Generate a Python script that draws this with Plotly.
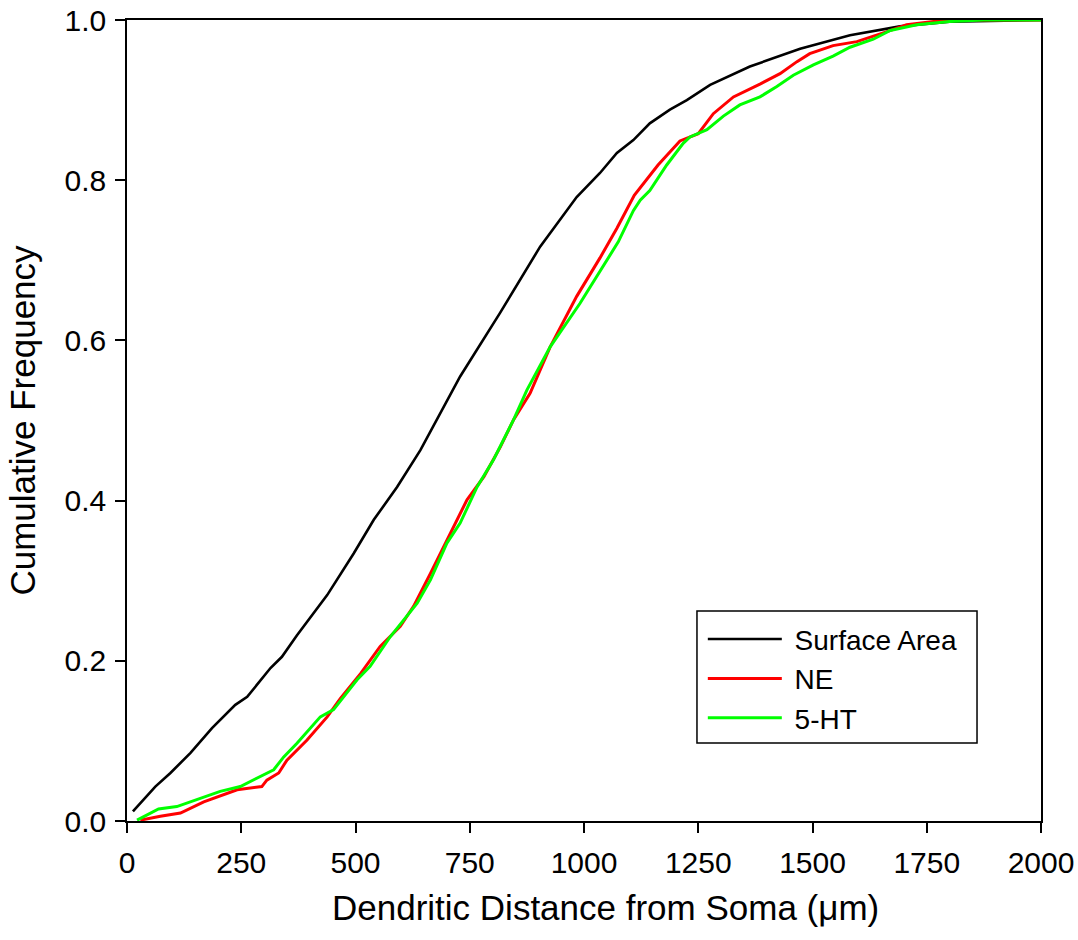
import plotly.graph_objects as go

# Surface Area (black)
sa_x = [13, 62, 95, 139, 186, 237, 263, 314, 339, 372, 438, 496, 540, 591, 642, 678, 729, 816, 904, 984,
        1035, 1072, 1108, 1144, 1188, 1225, 1276, 1363, 1473, 1582, 1691, 1800, 2000]
sa_y = [0.012, 0.043, 0.060, 0.085, 0.116, 0.145, 0.155, 0.191, 0.205, 0.232, 0.282, 0.334, 0.376, 0.417,
        0.463, 0.501, 0.555, 0.634, 0.717, 0.779, 0.809, 0.834, 0.850, 0.871, 0.888, 0.900, 0.919, 0.942,
        0.964, 0.981, 0.992, 0.998, 1.0]

# NE (red)
ne_x = [29, 73, 117, 168, 241, 295, 306, 332, 350, 394, 438, 467, 511, 554, 598, 627, 664, 707, 744, 781,
        817, 846, 882, 926, 984, 1035, 1072, 1110, 1162, 1210, 1250, 1283, 1327, 1385, 1429, 1466, 1494,
        1545, 1597, 1655, 1706, 1765, 1823, 2000]
ne_y = [0.001, 0.006, 0.010, 0.024, 0.039, 0.043, 0.051, 0.060, 0.076, 0.101, 0.130, 0.153, 0.184, 0.218,
        0.243, 0.268, 0.309, 0.359, 0.401, 0.430, 0.467, 0.501, 0.534, 0.592, 0.655, 0.703, 0.740, 0.781,
        0.819, 0.849, 0.858, 0.883, 0.904, 0.920, 0.933, 0.948, 0.958, 0.968, 0.973, 0.984, 0.994, 0.998,
        1.0, 1.0]

# 5-HT (green)
ht_x = [22, 69, 109, 160, 204, 248, 284, 321, 343, 372, 423, 452, 503, 532, 576, 605, 635, 664, 700, 729,
        766, 802, 846, 875, 926, 991, 1032, 1075, 1108, 1123, 1144, 1181, 1217, 1232, 1269, 1305, 1341,
        1385, 1422, 1458, 1502, 1545, 1582, 1633, 1670, 1728, 1800, 1874, 2000]
ht_y = [0.001, 0.015, 0.018, 0.028, 0.037, 0.043, 0.053, 0.064, 0.080, 0.097, 0.130, 0.139, 0.176, 0.193,
        0.230, 0.251, 0.272, 0.301, 0.347, 0.372, 0.417, 0.451, 0.501, 0.538, 0.592, 0.646, 0.684, 0.723,
        0.762, 0.775, 0.787, 0.819, 0.846, 0.854, 0.863, 0.880, 0.894, 0.904, 0.917, 0.931, 0.944, 0.955,
        0.966, 0.976, 0.987, 0.994, 0.998, 1.0, 1.0]

x_ticks = [0, 250, 500, 750, 1000, 1250, 1500, 1750, 2000]
y_ticks = [0.0, 0.2, 0.4, 0.6, 0.8, 1.0]

FONT = "Liberation Sans, Arial, sans-serif"
NB = "\u00a0"

fig = go.Figure()
fig.add_trace(go.Scatter(x=sa_x, y=sa_y, mode="lines", name=NB + "Surface Area",
                         line=dict(color="black", width=2.6)))
fig.add_trace(go.Scatter(x=ne_x, y=ne_y, mode="lines", name=NB + "NE",
                         line=dict(color="#FF0000", width=3)))
fig.add_trace(go.Scatter(x=ht_x, y=ht_y, mode="lines", name=NB + "5-HT",
                         line=dict(color="#00FF00", width=3)))

axis_common = dict(showgrid=False, zeroline=False, showline=True, linecolor="black", linewidth=1.5,
                   mirror=True, ticks="outside", ticklen=10, tickwidth=1.5, tickcolor="black",
                   automargin=False,
                   tickfont=dict(family=FONT, size=30, color="black"))

fig.update_xaxes(range=[0, 2000], tickvals=x_ticks, ticktext=[str(v) for v in x_ticks],
                 ticklabelstandoff=4, **axis_common)
fig.update_yaxes(range=[0, 1], tickvals=y_ticks, ticktext=[f"{v:.1f}" for v in y_ticks],
                 ticklabelstandoff=3,
                 title=dict(text="Cumulative Frequency",
                            font=dict(family=FONT, size=35, color="black"), standoff=18),
                 **axis_common)

# x-axis title (placed slightly right of centre, as in the original)
fig.add_annotation(text="Dendritic Distance from Soma (μm)", xref="paper", yref="paper",
                   x=0.5235, y=-0.1086, xanchor="center", yanchor="middle", showarrow=False,
                   font=dict(family=FONT, size=35, color="black"))

# legend frame (paper coordinates)
fig.add_shape(type="rect", xref="paper", yref="paper",
              x0=0.6236, x1=0.930, y0=0.0974, y1=0.2622,
              line=dict(color="black", width=1.5), fillcolor="rgba(0,0,0,0)", layer="above")

fig.update_layout(
    width=1078, height=940,
    margin=dict(l=127, r=37, t=20, b=119),
    paper_bgcolor="white", plot_bgcolor="white",
    legend=dict(x=0.630, y=0.258, xanchor="left", yanchor="top",
                borderwidth=0, bgcolor="rgba(0,0,0,0)",
                font=dict(family=FONT, size=28, color="black"),
                itemwidth=74, tracegroupgap=0),
    showlegend=True,
)

fig.write_html("out.html")
